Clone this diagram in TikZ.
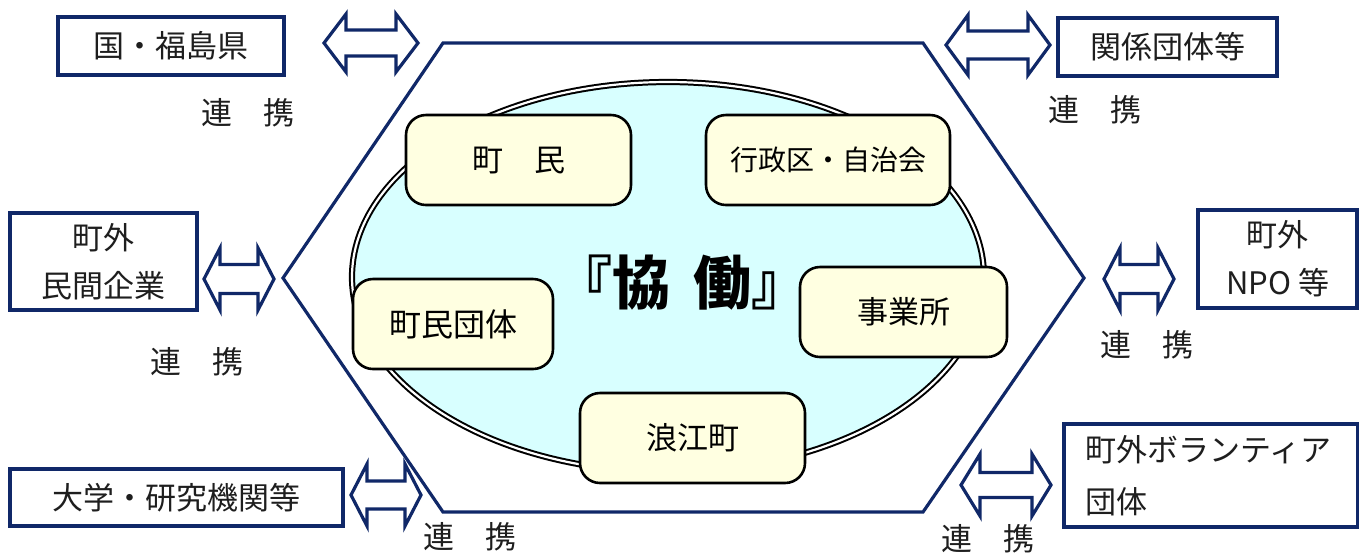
\documentclass[tikz,border=0pt]{standalone}
\usepackage{fontspec}
\setmainfont{Noto Sans CJK JP}
\definecolor{navy}{RGB}{16,40,104}
\definecolor{ellfill}{RGB}{216,255,255}
\definecolor{boxfill}{RGB}{255,255,225}
\definecolor{txt}{RGB}{30,30,30}
\newcommand\dblarr[6]{%
  \draw[arrline] ({#1-#3},#2) -- ++(#6,-#4) -- ++(0,{#4-#5}) -- ({#1+#3-#6},{#2-#5}) -- ++(0,{#5-#4}) -- ({#1+#3},#2) -- ({#1+#3-#6},{#2+#4}) -- ++(0,{#5-#4}) -- ({#1-#3+#6},{#2+#5}) -- ++(0,{#4-#5}) -- cycle;}
\tikzset{
  outerbox/.style={draw=navy, line width=1.6pt, fill=white, text=txt, font=\fontsize{15.5}{24}\selectfont, align=center, inner sep=0pt},
  innerbox/.style={draw=black, line width=1.3pt, fill=boxfill, rounded corners=10pt, font=\fontsize{15.5}{20}\selectfont, minimum height=45pt, inner sep=0pt},
  renkei/.style={text=txt, font=\fontsize{15.5}{20}\selectfont, inner sep=0pt},
  arrline/.style={draw=navy, line width=1.6pt, line join=miter, fill=white},
  hexline/.style={draw=navy, line width=1.6pt, line join=miter}
}
\begin{document}
\begin{tikzpicture}[x=0.5pt, y=-0.5pt]
\useasboundingbox (0,0) rectangle (1359,554);
% hexagon
\draw[hexline] (443,43) -- (923,43) -- (1084,278) -- (923,512) -- (443,512) -- (283,278) -- cycle;
% ellipse
\draw[draw=black, double=white, double distance=1.1pt, line width=1pt, fill=ellfill] (668,277) ellipse [x radius=316, y radius=195];
% center text
\node (kyodo) at (682,283) {\fontsize{29}{32}\selectfont\bfseries 『協\hspace{0.4em}働』};
% inner boxes
\node[innerbox, minimum width=112.5pt] (chomin) at (518.5,160) {町　民};
\node[innerbox, minimum width=122pt, font=\fontsize{14}{18}\selectfont] (gyosei) at (828,160) {行政区・自治会};
\node[innerbox, minimum width=100pt, font=\fontsize{16}{20}\selectfont] (dantai) at (453,324) {町民団体};
\node[innerbox, minimum width=103.5pt] (jigyo) at (903.5,312) {事業所};
\node[innerbox, minimum width=112.5pt] (namie) at (692.5,438) {浪江町};
% outer boxes
\node[outerbox, minimum width=113pt, minimum height=29pt] (kuni) at (171,46) {国・福島県};
\node[outerbox, minimum width=109.5pt, minimum height=29pt] (kankei) at (1167.5,47) {関係団体等};
\node[outerbox, minimum width=93.5pt, minimum height=48.5pt] (minkan) at (103.5,261.5) {町外\\民間企業};
\node[outerbox, minimum width=79.5pt, minimum height=49pt] (npo) at (1277.5,259) {町外\\NPO 等};
\node[outerbox, minimum width=166.5pt, minimum height=28.5pt] (daigaku) at (176.5,497.5) {大学・研究機関等};
\node[outerbox, align=left, text width=126pt, inner xsep=10.5pt, minimum height=51.5pt] (volun) at (1211,475.5) {\rule{0pt}{10pt}町外ボランティア\\[2pt]団体};
% arrows
\dblarr{371}{43}{47}{29}{13}{22}
\dblarr{998}{45}{52}{30}{14}{22}
\dblarr{239}{279}{35}{31}{14.5}{16}
\dblarr{1139}{279}{35}{31}{14.5}{16}
\dblarr{386}{495}{35}{31}{14}{16}
\dblarr{1006}{485}{45}{31}{12.5}{19}
% renkei labels
\node[renkei] (r1) at (248,113) {連　携};
\node[renkei] (r2) at (1095,110) {連　携};
\node[renkei] (r3) at (197,362) {連　携};
\node[renkei] (r4) at (1147,345) {連　携};
\node[renkei] (r5) at (470,537) {連　携};
\node[renkei] (r6) at (988,539) {連　携};
\end{tikzpicture}
\end{document}
